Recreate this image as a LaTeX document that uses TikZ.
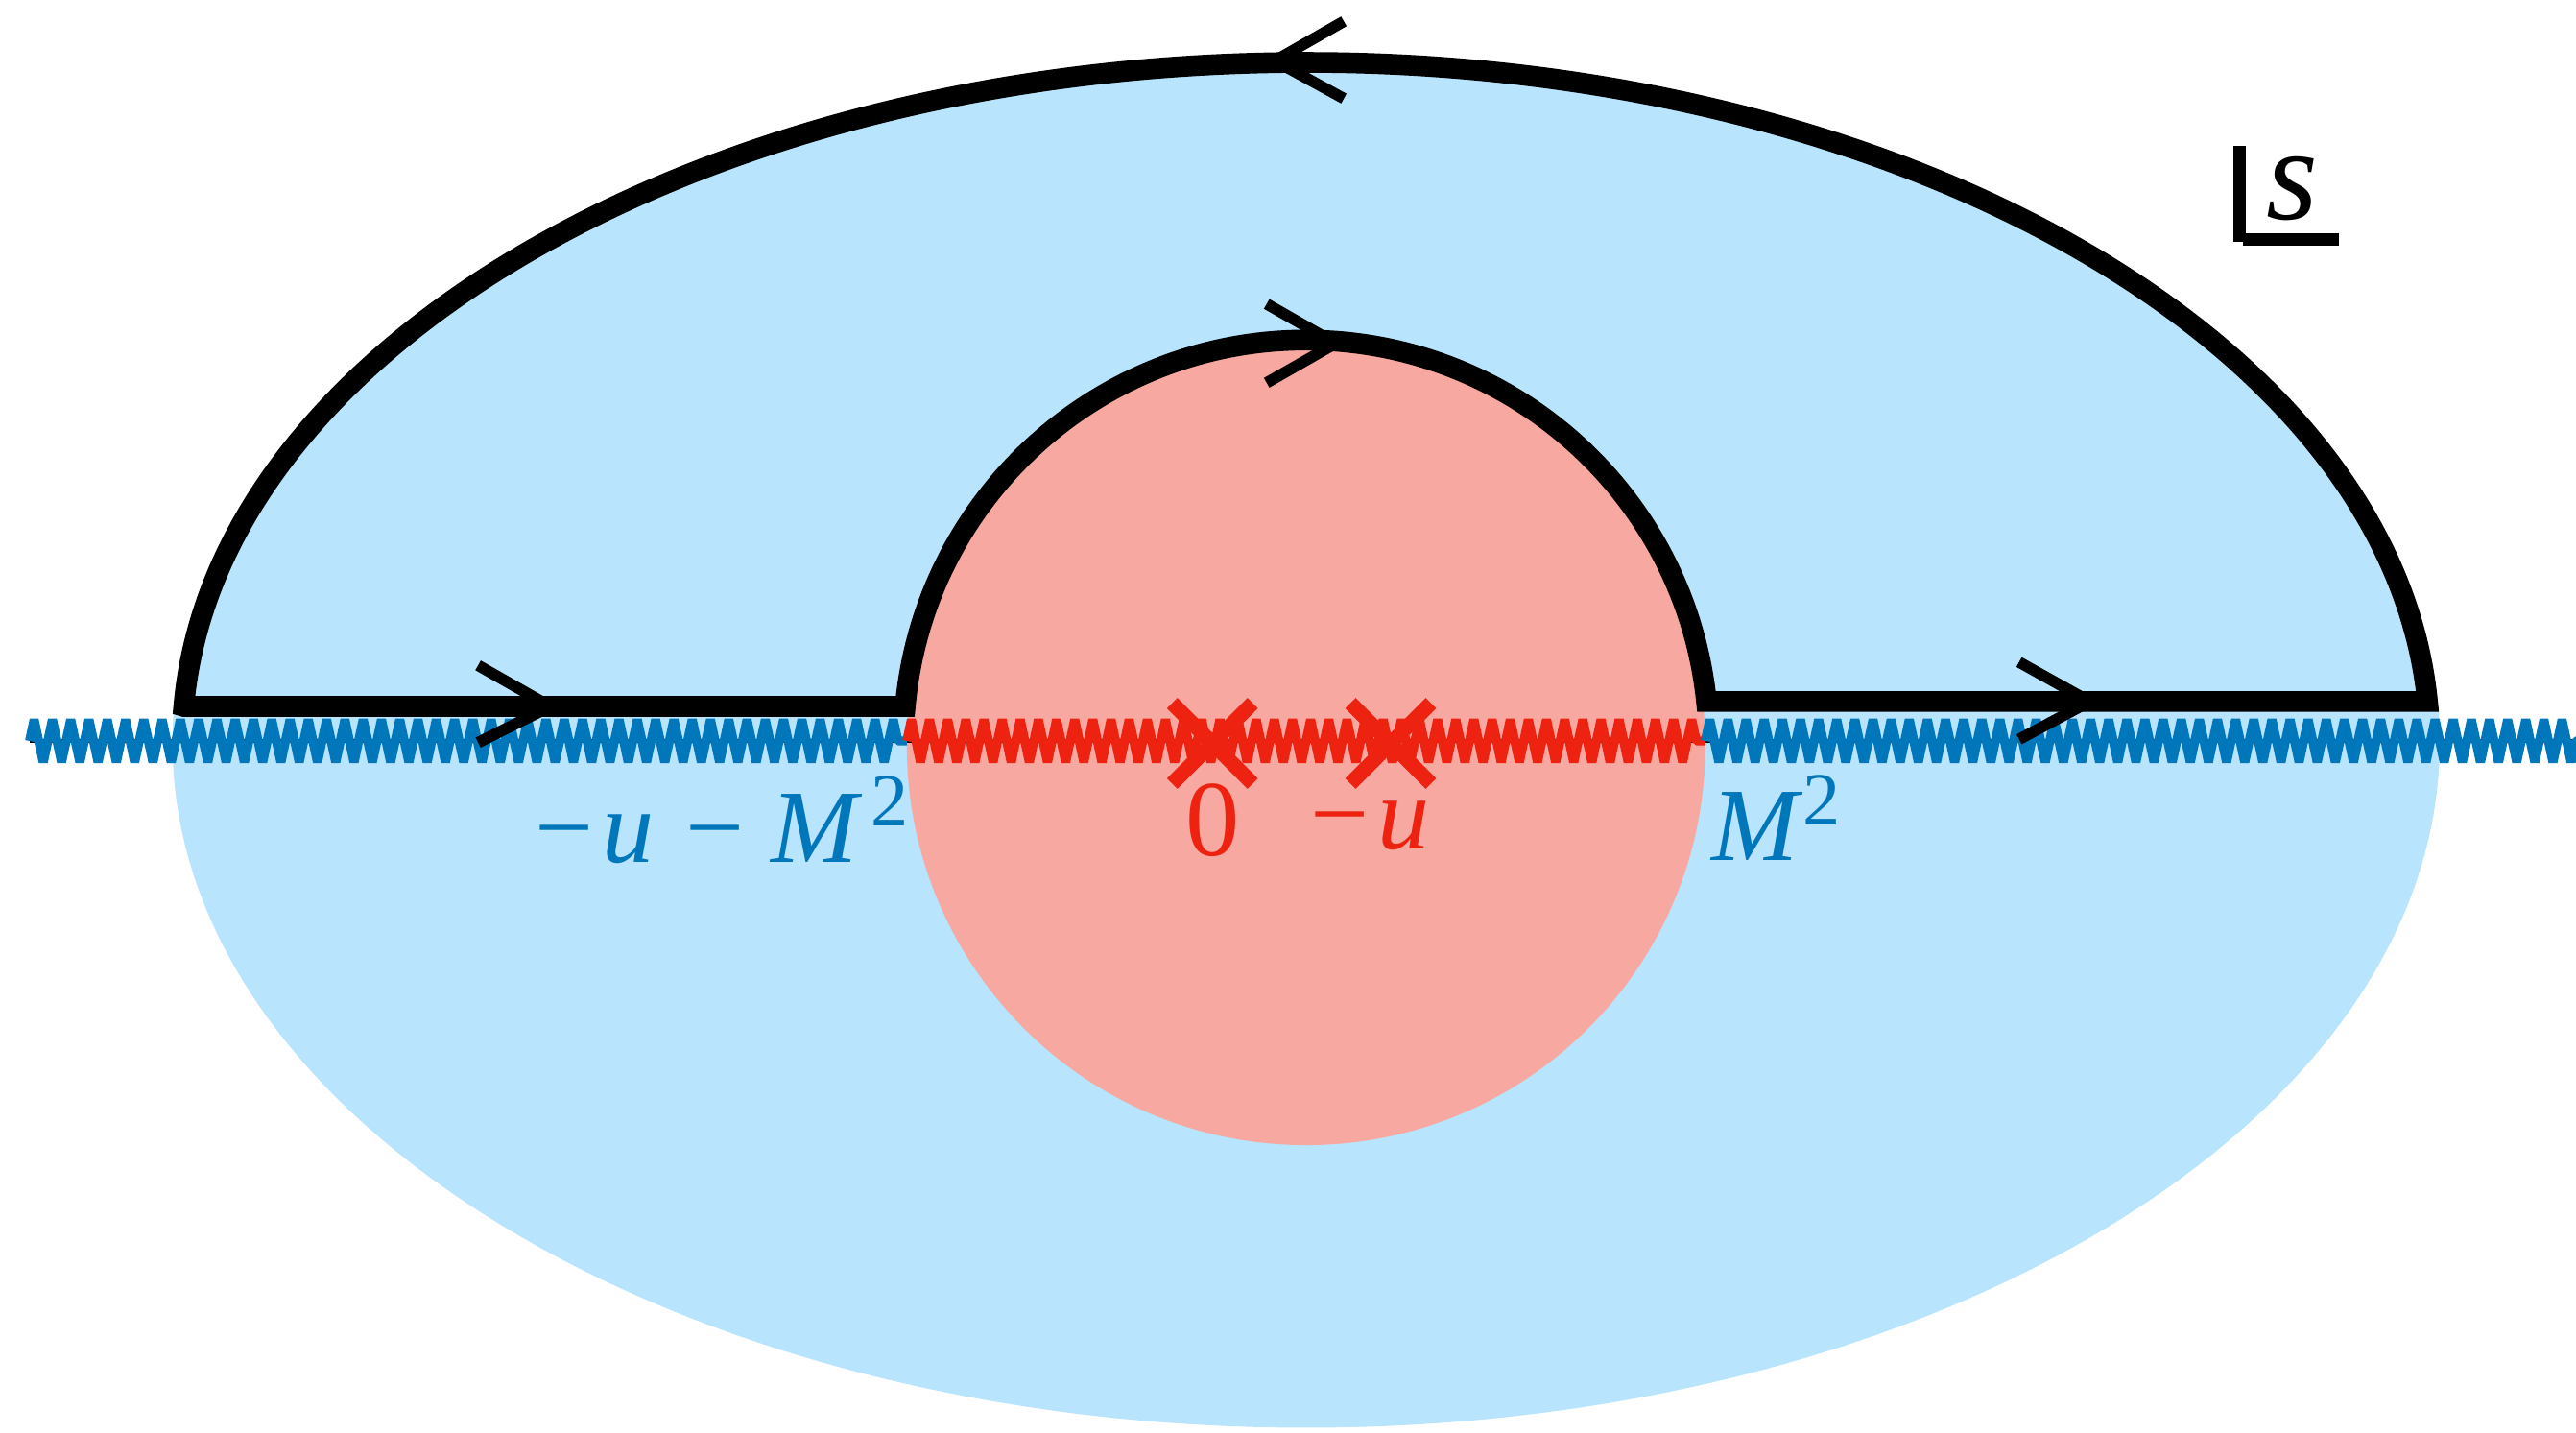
\documentclass[tikz,border=0pt]{standalone}
\usepackage{fontspec}
\setmainfont{Liberation Serif}
\usetikzlibrary{decorations.pathmorphing}
\definecolor{skyfill}{RGB}{184,229,253}
\definecolor{pinkfill}{RGB}{247,168,160}
\definecolor{cutblue}{RGB}{0,119,187}
\definecolor{cutred}{RGB}{238,34,17}
\begin{document}
\begin{tikzpicture}[x=0.01cm,y=0.01cm,
  contour/.style={line width=0.126cm, line join=miter, black},
  arrowarm/.style={line width=0.068cm, black, line join=miter},
  cutline/.style={line width=0.055cm, line join=bevel, decorate,
    decoration={zigzag, segment length=#1, amplitude=0.13cm}},
  pole/.style={line width=0.09cm, cutred},
  lab/.style={font=\fontsize{18}{18}\selectfont, inner sep=0pt}]
\useasboundingbox (0,0) rectangle (1568,872);
% regions
\fill[skyfill] (795,420) ellipse [x radius=690, y radius=417];
\fill[pinkfill] (795,418) circle [radius=243];
% axis and cuts
\coordinate (axL) at (18,421);
\coordinate (axA) at (552,421);
\coordinate (axB) at (1038,421);
\coordinate (axR) at (1568,421);
\draw[line width=0.018cm] (axL) -- (axR);
\draw[cutline=0.1112cm, cutblue] (axL) -- (axA);
\draw[cutline=0.1104cm, cutred] (axA) -- (axB);
\draw[cutline=0.1103cm, cutblue] (axB) -- (axR);
% contour
\coordinate (cL) at (112,442);
\coordinate (iL) at (551,442);
\coordinate (iR) at (1038.5,445);
\coordinate (cR) at (1477.6,445);
\draw[contour] (cL) -- (iL)
  arc[start angle=174.85, end angle=5.86, radius=245] -- (cR)
  arc[start angle=3.46, end angle=176.95, x radius=684, y radius=414] -- cycle;
% arrowheads
\coordinate (t1) at (776,835);
\draw[arrowarm] (818,859) -- (t1) -- (818,812);
\coordinate (t2) at (813,663);
\draw[arrowarm] (771,687) -- (t2) -- (771,639);
\coordinate (t3) at (335,442);
\draw[arrowarm] (291,467) -- (t3) -- (291,420);
\coordinate (t4) at (1272,445);
\draw[arrowarm] (1229,469) -- (t4) -- (1229,422);
% poles
\draw[pole] (713.5,395) -- (762.5,444) (713.5,444) -- (762.5,395);
\draw[pole] (822,395) -- (871,444) (822,444) -- (871,395);
% labels
\node[lab, text=cutblue, anchor=base west] (l1) at (325,347)
  {−\hspace{1.5pt}\textit{u}\hspace{5.5pt}−\hspace{4.5pt}\textit{M}\hspace{1.5pt}\raisebox{6.3pt}{\fontsize{13}{13}\selectfont 2}};
\node[lab, text=cutblue, anchor=base west] (l2) at (1041,348)
  {\textit{M}\raisebox{6.3pt}{\fontsize{13}{13}\selectfont 2}};
\node[lab, text=cutred, anchor=base, font=\fontsize{18.7}{18.7}\selectfont] (l3) at (738,351) {0};
\node[lab, text=cutred, anchor=base west] (l4) at (797,355) {−\hspace{1.5pt}\textit{u}};
% s label
\draw[line width=0.075cm] (1363.3,783.4) -- (1363.3,725);
\draw[line width=0.075cm] (1365.2,726.2) -- (1423.6,726.2);
\node[inner sep=0pt, anchor=base west, font=\fontsize{23}{23}\selectfont] (sl) at (1379,738.6) {\textit{s}};
\end{tikzpicture}
\end{document}
